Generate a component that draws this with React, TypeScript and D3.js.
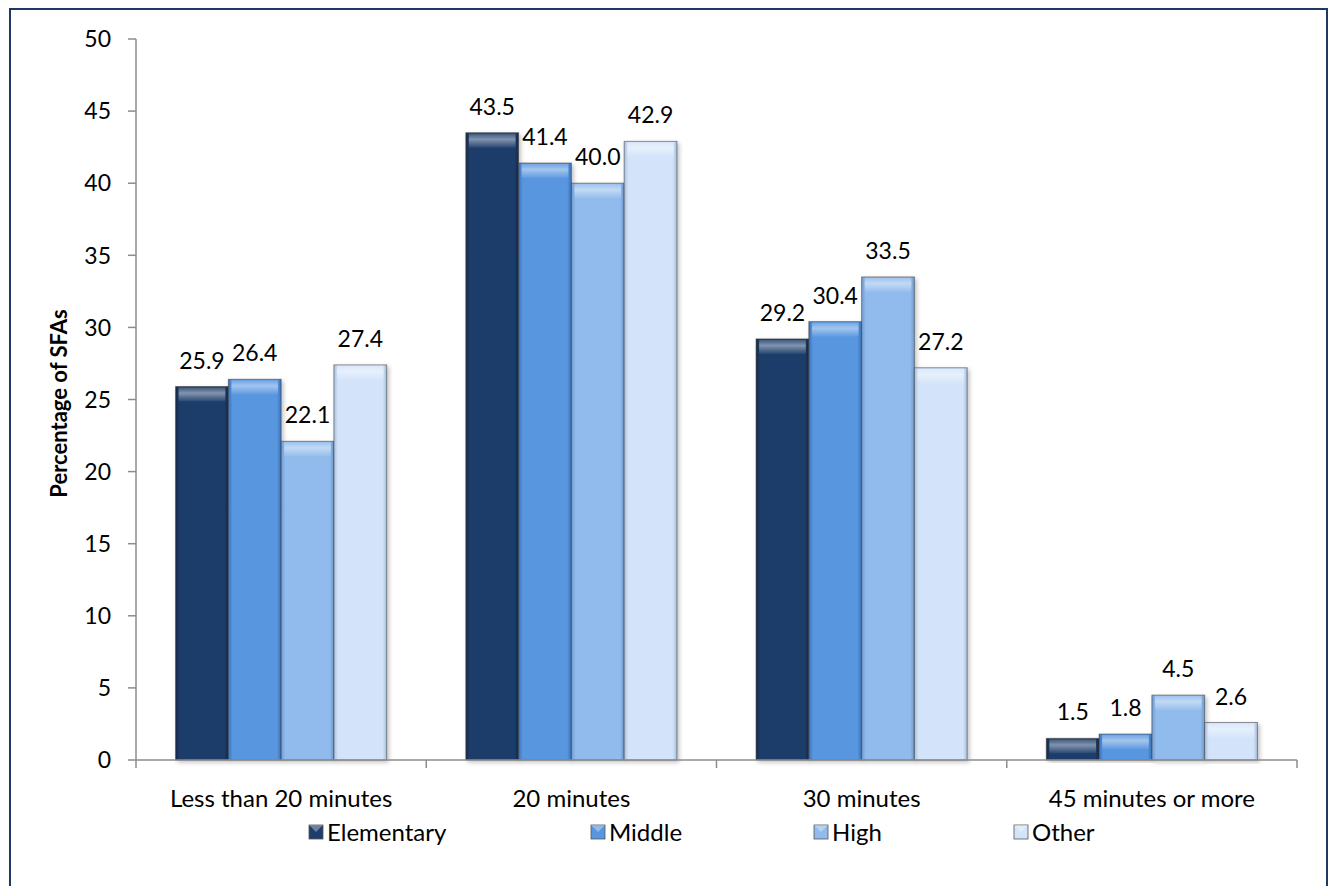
import React from "react";
import * as d3 from "d3";

const categories = ["Less than 20 minutes", "20 minutes", "30 minutes", "45 minutes or more"];
const seriesNames = ["Elementary", "Middle", "High", "Other"];
const elementary = [25.9, 43.5, 29.2, 1.5];
const middle = [26.4, 41.4, 30.4, 1.8];
const high = [22.1, 40.0, 33.5, 4.5];
const other = [27.4, 42.9, 27.2, 2.6];
const yTicks = [0, 5, 10, 15, 20, 25, 30, 35, 40, 45, 50];
const colors = ["#1f3d6a", "#5896e0", "#90bbec", "#d3e4fa"];
const edgeColors = ["#14284a", "#3c73b8", "#6f9bd0", "#a9bfdc"];

const W = 1329;
const H = 886;
const left = 136;
const right = 1297;
const top = 39;
const bottom = 760;
const FONT = "Lato, 'Open Sans', sans-serif";

export default function App() {
  const seriesValues = [elementary, middle, high, other];
  const x0 = d3.scaleBand<string>().domain(categories).range([left, right]).paddingInner(0).paddingOuter(0);
  const bw = x0.bandwidth() / 5.5;
  const x1 = d3
    .scaleBand<string>()
    .domain(seriesNames)
    .range([0, bw * 4]);
  const y = d3.scaleLinear().domain([0, 50]).range([bottom, top]);
  const groupOffset = (x0.bandwidth() - bw * 4) / 2;

  const legendX = [309, 591, 814, 1014];

  return (
    <svg width={W} height={H} style={{ position: "absolute", left: 0, top: 0, background: "#fff" }} fontFamily={FONT}>
      <defs>
        {colors.map((c, i) => (
          <linearGradient key={"h" + i} id={"hg" + i} x1="0" x2="1" y1="0" y2="0">
            <stop offset="0" stopColor={edgeColors[i]} />
            <stop offset="0.08" stopColor={c} />
            <stop offset="0.92" stopColor={c} />
            <stop offset="1" stopColor={edgeColors[i]} />
          </linearGradient>
        ))}
        <linearGradient id="topHi" x1="0" x2="0" y1="0" y2="1">
          <stop offset="0" stopColor="#fff" stopOpacity="0.15" />
          <stop offset="0.4" stopColor="#fff" stopOpacity="0.45" />
          <stop offset="1" stopColor="#fff" stopOpacity="0.05" />
        </linearGradient>
        <filter id="shadow" x="-20%" y="-5%" width="140%" height="115%">
          <feDropShadow dx="2" dy="2" stdDeviation="2" floodColor="#000" floodOpacity="0.25" />
        </filter>
      </defs>
      <rect x={10} y={9} width={1317} height={H + 10} fill="none" stroke="#1f3864" strokeWidth={2} />

      {/* y axis */}
      <line x1={left} x2={left} y1={top} y2={bottom} stroke="#8c8c8c" strokeWidth={1.5} />
      {yTicks.map((t) => (
        <g key={t}>
          <line x1={left - 8} x2={left} y1={y(t)} y2={y(t)} stroke="#8c8c8c" strokeWidth={1.5} />
          <text x={111} y={y(t)} dy="0.36em" textAnchor="end" fontSize={23} fill="#000">
            {t}
          </text>
        </g>
      ))}
      <text
        transform={`translate(67, ${(top + bottom) / 2 + 4}) rotate(-90)`}
        textAnchor="middle"
        fontSize={22}
        fontWeight="bold"
        fill="#000"
      >
        Percentage of SFAs
      </text>

      {/* bars */}
      {categories.map((cat, ci) => (
        <g key={cat}>
          {seriesNames.map((s, si) => {
            const v = seriesValues[si][ci];
            const bx = (x0(cat) as number) + groupOffset + (x1(s) as number);
            const by = y(v);
            const bh = y(0) - by;
            const hiH = Math.min(14, bh);
            return (
              <g key={s}>
                <rect x={bx} y={by} width={bw} height={bh} fill={`url(#hg${si})`} stroke="#3a3a3a" strokeOpacity={0.55} strokeWidth={1} filter="url(#shadow)" />
                <rect x={bx + 3} y={by + 1} width={bw - 6} height={hiH} fill="url(#topHi)" />
                <text x={bx + bw / 2} y={by - 18} textAnchor="middle" fontSize={23} fill="#000">
                  {v.toFixed(1)}
                </text>
              </g>
            );
          })}
        </g>
      ))}

      {/* x axis */}
      <line x1={left} x2={right} y1={bottom} y2={bottom} stroke="#8c8c8c" strokeWidth={1.5} />
      {[...categories.map((c) => x0(c) as number), right].map((t, i) => (
        <line key={i} x1={t} x2={t} y1={bottom} y2={bottom + 8} stroke="#8c8c8c" strokeWidth={1.5} />
      ))}
      {categories.map((c) => (
        <text key={c} x={(x0(c) as number) + x0.bandwidth() / 2} y={807} textAnchor="middle" fontSize={24} fill="#000">
          {c}
        </text>
      ))}

      {/* legend */}
      {seriesNames.map((s, i) => (
        <g key={s}>
          <rect x={legendX[i]} y={825} width={14} height={14} fill={colors[i]} stroke="#555" strokeWidth={0.8} />
          <path
            d={`M${legendX[i]},${825} L${legendX[i] + 7},${832} L${legendX[i] + 14},${825} Z`}
            fill="#fff"
            opacity={0.35}
          />
          <text x={legendX[i] + 18} y={832.5} dy="0.36em" fontSize={24} fill="#000">
            {s}
          </text>
        </g>
      ))}
    </svg>
  );
}
